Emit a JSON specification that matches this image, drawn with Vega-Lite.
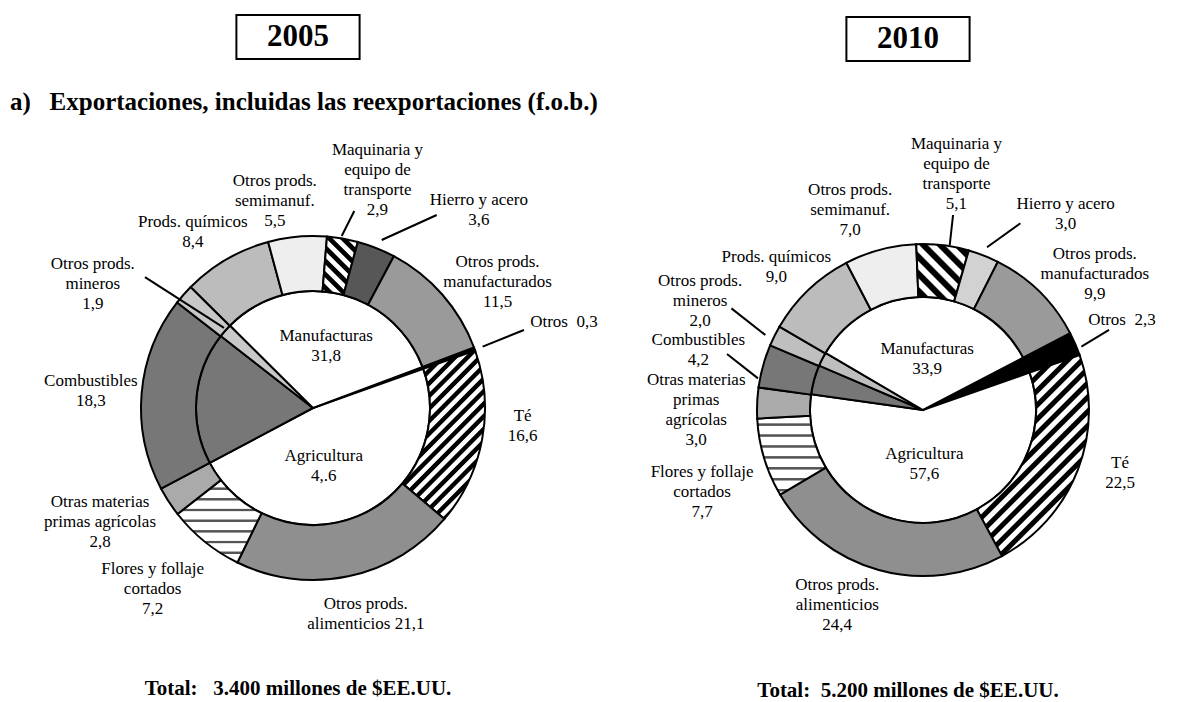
{
"$schema": "https://vega.github.io/schema/vega-lite/v6.json",
"width": 1194, "height": 702, "padding": 0, "autosize": {"type": "none"},
"background": "white",
"config": {"view": {"stroke": null}, "text": {"font": "Liberation Serif", "fontSize": 17, "lineHeight": 20, "lineBreak": "\n", "color": "black"}},
"datasets": {
"outer": [
{"year":2005,"k":1,"cat":"Otros","value":0.3,"label":"Otros\u00a0\u00a00,3"},
{"year":2005,"k":2,"cat":"Té","value":16.6,"label":"Té\n16,6"},
{"year":2005,"k":3,"cat":"Alimenticios","value":21.1,"label":"Otros prods.\nalimenticios 21,1"},
{"year":2005,"k":4,"cat":"Flores","value":7.2,"label":"Flores y follaje\ncortados\n7,2"},
{"year":2005,"k":5,"cat":"Materias","value":2.8,"label":"Otras materias\nprimas agrícolas\n2,8"},
{"year":2005,"k":6,"cat":"Combustibles","value":18.3,"label":"Combustibles\n18,3"},
{"year":2005,"k":7,"cat":"Mineros","value":1.9,"label":"Otros prods.\nmineros\n1,9"},
{"year":2005,"k":8,"cat":"Químicos","value":8.4,"label":"Prods. químicos\n8,4"},
{"year":2005,"k":9,"cat":"Semimanuf","value":5.5,"label":"Otros prods.\nsemimanuf.\n5,5"},
{"year":2005,"k":10,"cat":"Maquinaria","value":2.9,"label":"Maquinaria y\nequipo de\ntransporte\n2,9"},
{"year":2005,"k":11,"cat":"Hierro","value":3.6,"label":"Hierro y acero\n3,6"},
{"year":2005,"k":12,"cat":"Manufacturados","value":11.5,"label":"Otros prods.\nmanufacturados\n11,5"},
{"year":2010,"k":1,"cat":"Otros","value":2.3,"label":"Otros\u00a0\u00a02,3"},
{"year":2010,"k":2,"cat":"Té","value":22.5,"label":"Té\n22,5"},
{"year":2010,"k":3,"cat":"Alimenticios","value":24.4,"label":"Otros prods.\nalimenticios\n24,4"},
{"year":2010,"k":4,"cat":"Flores","value":7.7,"label":"Flores y follaje\ncortados\n7,7"},
{"year":2010,"k":5,"cat":"Materias","value":3.0,"label":"Otras materias\nprimas\nagrícolas\n3,0"},
{"year":2010,"k":6,"cat":"Combustibles","value":4.2,"label":"Combustibles\n4,2"},
{"year":2010,"k":7,"cat":"Mineros","value":2.0,"label":"Otros prods.\nmineros\n2,0"},
{"year":2010,"k":8,"cat":"Químicos","value":9.0,"label":"Prods. químicos\n9,0"},
{"year":2010,"k":9,"cat":"Semimanuf","value":7.0,"label":"Otros prods.\nsemimanuf.\n7,0"},
{"year":2010,"k":10,"cat":"Maquinaria","value":5.1,"label":"Maquinaria y\nequipo de\ntransporte\n5,1"},
{"year":2010,"k":11,"cat":"Hierro","value":3.0,"label":"Hierro y acero\n3,0"},
{"year":2010,"k":12,"cat":"Manufacturados","value":9.9,"label":"Otros prods.\nmanufacturados\n9,9"}
],
"inner": [
{"year":2005,"k":1,"cat":"Otros","value":0.3,"label":""},
{"year":2005,"k":2,"cat":"Agricultura","value":47.6,"label":"Agricultura\n4,.6"},
{"year":2005,"k":3,"cat":"Combustibles","value":18.3,"label":""},
{"year":2005,"k":4,"cat":"Mineros","value":1.9,"label":""},
{"year":2005,"k":5,"cat":"Manufacturas","value":31.8,"label":"Manufacturas\n31,8"},
{"year":2010,"k":1,"cat":"Otros","value":2.3,"label":""},
{"year":2010,"k":2,"cat":"Agricultura","value":57.6,"label":"Agricultura\n57,6"},
{"year":2010,"k":3,"cat":"Combustibles","value":4.2,"label":""},
{"year":2010,"k":4,"cat":"Mineros","value":2.0,"label":""},
{"year":2010,"k":5,"cat":"Manufacturas","value":33.9,"label":"Manufacturas\n33,9"}
],
"panels": [
{"year":2005,"title":"2005","total":"Total:\u00a0\u00a0 3.400 millones de $EE.UU."},
{"year":2010,"title":"2010","total":"Total:\u00a0 5.200 millones de $EE.UU."}
],
"notes": [
{"year":2005,"text":"a)\u00a0\u00a0\u00a0Exportaciones, incluidas las reexportaciones (f.o.b.)"}
]
},
"encoding": {
"x": {"field":"year","type":"quantitative","axis":null,"scale":{"domain":[2005,2010],"range":[313,923],"nice":false,"zero":false}},
"y": {"field":"year","type":"quantitative","axis":null,"scale":{"domain":[2005,2010],"range":[408,410],"nice":false,"zero":false}}
},
"layer": [
{"data":{"name":"inner"},"transform":[{"filter":"datum.year === 2005"}],
 "mark":{"type":"arc","innerRadius":0,"outerRadius":117,"stroke":"black","strokeWidth":2},
 "encoding":{"theta":{"field":"value","type":"quantitative","stack":true,"scale":{"range":[1.21125,7.49444]}},
  "order":{"field":"k","type":"quantitative"},
  "fill":{"field":"cat","type":"nominal","legend":null,"scale":{"domain":["Otros","Agricultura","Combustibles","Mineros","Manufacturas"],"range":["#000000","#ffffff","#777777","#c8c8c8","#ffffff"]}}}},
{"data":{"name":"outer"},"transform":[{"filter":"datum.year === 2005"}],
 "mark":{"type":"arc","innerRadius":117,"outerRadius":172,"stroke":"black","strokeWidth":2},
 "encoding":{"theta":{"field":"value","type":"quantitative","stack":true,"scale":{"range":[1.21125,7.49444]}},
  "order":{"field":"k","type":"quantitative"},
  "fill":{"condition":[
   {"test":"datum.cat === 'Té'","value":{"gradient":"linear","x1":0,"y1":0,"x2":0.741,"y2":1.501,"stops":[
{"offset":0.002,"color":"#fff"},{"offset":0.018,"color":"#fff"},{"offset":0.022,"color":"#000"},{"offset":0.038,"color":"#000"},
{"offset":0.042,"color":"#fff"},{"offset":0.058,"color":"#fff"},{"offset":0.062,"color":"#000"},{"offset":0.078,"color":"#000"},
{"offset":0.082,"color":"#fff"},{"offset":0.098,"color":"#fff"},{"offset":0.102,"color":"#000"},{"offset":0.118,"color":"#000"},
{"offset":0.122,"color":"#fff"},{"offset":0.138,"color":"#fff"},{"offset":0.142,"color":"#000"},{"offset":0.158,"color":"#000"},
{"offset":0.162,"color":"#fff"},{"offset":0.178,"color":"#fff"},{"offset":0.182,"color":"#000"},{"offset":0.198,"color":"#000"},
{"offset":0.202,"color":"#fff"},{"offset":0.218,"color":"#fff"},{"offset":0.222,"color":"#000"},{"offset":0.238,"color":"#000"},
{"offset":0.242,"color":"#fff"},{"offset":0.258,"color":"#fff"},{"offset":0.262,"color":"#000"},{"offset":0.278,"color":"#000"},
{"offset":0.282,"color":"#fff"},{"offset":0.298,"color":"#fff"},{"offset":0.302,"color":"#000"},{"offset":0.318,"color":"#000"},
{"offset":0.322,"color":"#fff"},{"offset":0.338,"color":"#fff"},{"offset":0.342,"color":"#000"},{"offset":0.358,"color":"#000"},
{"offset":0.362,"color":"#fff"},{"offset":0.378,"color":"#fff"},{"offset":0.382,"color":"#000"},{"offset":0.398,"color":"#000"},
{"offset":0.402,"color":"#fff"},{"offset":0.418,"color":"#fff"},{"offset":0.422,"color":"#000"},{"offset":0.438,"color":"#000"},
{"offset":0.442,"color":"#fff"},{"offset":0.458,"color":"#fff"},{"offset":0.462,"color":"#000"},{"offset":0.478,"color":"#000"},
{"offset":0.482,"color":"#fff"},{"offset":0.498,"color":"#fff"},{"offset":0.502,"color":"#000"},{"offset":0.518,"color":"#000"},
{"offset":0.522,"color":"#fff"},{"offset":0.538,"color":"#fff"},{"offset":0.542,"color":"#000"},{"offset":0.558,"color":"#000"},
{"offset":0.562,"color":"#fff"},{"offset":0.578,"color":"#fff"},{"offset":0.582,"color":"#000"},{"offset":0.598,"color":"#000"},
{"offset":0.602,"color":"#fff"},{"offset":0.618,"color":"#fff"},{"offset":0.622,"color":"#000"},{"offset":0.638,"color":"#000"},
{"offset":0.642,"color":"#fff"},{"offset":0.658,"color":"#fff"},{"offset":0.662,"color":"#000"},{"offset":0.678,"color":"#000"},
{"offset":0.682,"color":"#fff"},{"offset":0.698,"color":"#fff"},{"offset":0.702,"color":"#000"},{"offset":0.718,"color":"#000"},
{"offset":0.722,"color":"#fff"},{"offset":0.738,"color":"#fff"},{"offset":0.742,"color":"#000"},{"offset":0.758,"color":"#000"},
{"offset":0.762,"color":"#fff"},{"offset":0.778,"color":"#fff"},{"offset":0.782,"color":"#000"},{"offset":0.798,"color":"#000"},
{"offset":0.802,"color":"#fff"},{"offset":0.818,"color":"#fff"},{"offset":0.822,"color":"#000"},{"offset":0.838,"color":"#000"}
   ]}},
   {"test":"datum.cat === 'Maquinaria'","value":{"gradient":"linear","x1":0,"y1":1,"x2":2.517,"y2":-3.202,"stops":[
{"offset":0.002,"color":"#fff"},{"offset":0.018,"color":"#fff"},{"offset":0.022,"color":"#000"},{"offset":0.038,"color":"#000"},
{"offset":0.042,"color":"#fff"},{"offset":0.058,"color":"#fff"},{"offset":0.062,"color":"#000"},{"offset":0.078,"color":"#000"},
{"offset":0.082,"color":"#fff"},{"offset":0.098,"color":"#fff"},{"offset":0.102,"color":"#000"},{"offset":0.118,"color":"#000"},
{"offset":0.122,"color":"#fff"},{"offset":0.138,"color":"#fff"},{"offset":0.142,"color":"#000"},{"offset":0.158,"color":"#000"},
{"offset":0.162,"color":"#fff"},{"offset":0.178,"color":"#fff"},{"offset":0.182,"color":"#000"},{"offset":0.198,"color":"#000"},
{"offset":0.202,"color":"#fff"},{"offset":0.218,"color":"#fff"},{"offset":0.222,"color":"#000"},{"offset":0.238,"color":"#000"},
{"offset":0.242,"color":"#fff"},{"offset":0.258,"color":"#fff"},{"offset":0.262,"color":"#000"},{"offset":0.278,"color":"#000"},
{"offset":0.282,"color":"#fff"},{"offset":0.298,"color":"#fff"},{"offset":0.302,"color":"#000"},{"offset":0.318,"color":"#000"}
   ]}},
   {"test":"datum.cat === 'Flores'","value":{"gradient":"linear","x1":0,"y1":0,"x2":0,"y2":3.24,"stops":[
{"offset":0.026,"color":"#fff"},{"offset":0.029,"color":"#555"},{"offset":0.035,"color":"#555"},{"offset":0.038,"color":"#fff"},
{"offset":0.066,"color":"#fff"},{"offset":0.069,"color":"#555"},{"offset":0.075,"color":"#555"},{"offset":0.078,"color":"#fff"},
{"offset":0.106,"color":"#fff"},{"offset":0.109,"color":"#555"},{"offset":0.115,"color":"#555"},{"offset":0.118,"color":"#fff"},
{"offset":0.146,"color":"#fff"},{"offset":0.149,"color":"#555"},{"offset":0.155,"color":"#555"},{"offset":0.158,"color":"#fff"},
{"offset":0.186,"color":"#fff"},{"offset":0.189,"color":"#555"},{"offset":0.195,"color":"#555"},{"offset":0.198,"color":"#fff"},
{"offset":0.226,"color":"#fff"},{"offset":0.229,"color":"#555"},{"offset":0.235,"color":"#555"},{"offset":0.238,"color":"#fff"},
{"offset":0.266,"color":"#fff"},{"offset":0.269,"color":"#555"},{"offset":0.275,"color":"#555"},{"offset":0.278,"color":"#fff"},
{"offset":0.306,"color":"#fff"},{"offset":0.309,"color":"#555"},{"offset":0.315,"color":"#555"},{"offset":0.318,"color":"#fff"}
   ]}}
  ],
  "field":"cat","type":"nominal","legend":null,
  "scale":{"domain":["Otros","Té","Alimenticios","Flores","Materias","Combustibles","Mineros","Químicos","Semimanuf","Maquinaria","Hierro","Manufacturados"],
           "range":["#000000","#777777","#8f8f8f","#dddddd","#aaaaaa","#777777","#c8c8c8","#bcbcbc","#eeeeee","#777777","#575757","#9a9a9a"]}}}},
{"data":{"name":"inner"},"transform":[{"filter":"datum.year === 2010"}],
 "mark":{"type":"arc","innerRadius":0,"outerRadius":113,"stroke":"black","strokeWidth":2},
 "encoding":{"theta":{"field":"value","type":"quantitative","stack":true,"scale":{"range":[1.08908,7.37227]}},
  "order":{"field":"k","type":"quantitative"},
  "fill":{"field":"cat","type":"nominal","legend":null,"scale":{"domain":["Otros","Agricultura","Combustibles","Mineros","Manufacturas"],"range":["#000000","#ffffff","#777777","#bfbfbf","#ffffff"]}}}},
{"data":{"name":"outer"},"transform":[{"filter":"datum.year === 2010"}],
 "mark":{"type":"arc","innerRadius":113,"outerRadius":166,"stroke":"black","strokeWidth":2},
 "encoding":{"theta":{"field":"value","type":"quantitative","stack":true,"scale":{"range":[1.08908,7.37227]}},
  "order":{"field":"k","type":"quantitative"},
  "fill":{"condition":[
   {"test":"datum.cat === 'Té'","value":{"gradient":"linear","x1":0,"y1":0,"x2":0.753,"y2":1.35,"stops":[
{"offset":0.002,"color":"#fff"},{"offset":0.018,"color":"#fff"},{"offset":0.022,"color":"#000"},{"offset":0.038,"color":"#000"},
{"offset":0.042,"color":"#fff"},{"offset":0.058,"color":"#fff"},{"offset":0.062,"color":"#000"},{"offset":0.078,"color":"#000"},
{"offset":0.082,"color":"#fff"},{"offset":0.098,"color":"#fff"},{"offset":0.102,"color":"#000"},{"offset":0.118,"color":"#000"},
{"offset":0.122,"color":"#fff"},{"offset":0.138,"color":"#fff"},{"offset":0.142,"color":"#000"},{"offset":0.158,"color":"#000"},
{"offset":0.162,"color":"#fff"},{"offset":0.178,"color":"#fff"},{"offset":0.182,"color":"#000"},{"offset":0.198,"color":"#000"},
{"offset":0.202,"color":"#fff"},{"offset":0.218,"color":"#fff"},{"offset":0.222,"color":"#000"},{"offset":0.238,"color":"#000"},
{"offset":0.242,"color":"#fff"},{"offset":0.258,"color":"#fff"},{"offset":0.262,"color":"#000"},{"offset":0.278,"color":"#000"},
{"offset":0.282,"color":"#fff"},{"offset":0.298,"color":"#fff"},{"offset":0.302,"color":"#000"},{"offset":0.318,"color":"#000"},
{"offset":0.322,"color":"#fff"},{"offset":0.338,"color":"#fff"},{"offset":0.342,"color":"#000"},{"offset":0.358,"color":"#000"},
{"offset":0.362,"color":"#fff"},{"offset":0.378,"color":"#fff"},{"offset":0.382,"color":"#000"},{"offset":0.398,"color":"#000"},
{"offset":0.402,"color":"#fff"},{"offset":0.418,"color":"#fff"},{"offset":0.422,"color":"#000"},{"offset":0.438,"color":"#000"},
{"offset":0.442,"color":"#fff"},{"offset":0.458,"color":"#fff"},{"offset":0.462,"color":"#000"},{"offset":0.478,"color":"#000"},
{"offset":0.482,"color":"#fff"},{"offset":0.498,"color":"#fff"},{"offset":0.502,"color":"#000"},{"offset":0.518,"color":"#000"},
{"offset":0.522,"color":"#fff"},{"offset":0.538,"color":"#fff"},{"offset":0.542,"color":"#000"},{"offset":0.558,"color":"#000"},
{"offset":0.562,"color":"#fff"},{"offset":0.578,"color":"#fff"},{"offset":0.582,"color":"#000"},{"offset":0.598,"color":"#000"},
{"offset":0.602,"color":"#fff"},{"offset":0.618,"color":"#fff"},{"offset":0.622,"color":"#000"},{"offset":0.638,"color":"#000"},
{"offset":0.642,"color":"#fff"},{"offset":0.658,"color":"#fff"},{"offset":0.662,"color":"#000"},{"offset":0.678,"color":"#000"},
{"offset":0.682,"color":"#fff"},{"offset":0.698,"color":"#fff"},{"offset":0.702,"color":"#000"},{"offset":0.718,"color":"#000"},
{"offset":0.722,"color":"#fff"},{"offset":0.738,"color":"#fff"},{"offset":0.742,"color":"#000"},{"offset":0.758,"color":"#000"},
{"offset":0.762,"color":"#fff"},{"offset":0.778,"color":"#fff"},{"offset":0.782,"color":"#000"},{"offset":0.798,"color":"#000"},
{"offset":0.802,"color":"#fff"},{"offset":0.818,"color":"#fff"},{"offset":0.822,"color":"#000"},{"offset":0.838,"color":"#000"},
{"offset":0.842,"color":"#fff"},{"offset":0.858,"color":"#fff"},{"offset":0.862,"color":"#000"},{"offset":0.878,"color":"#000"},
{"offset":0.882,"color":"#fff"},{"offset":0.898,"color":"#fff"},{"offset":0.902,"color":"#000"},{"offset":0.918,"color":"#000"}
   ]}},
   {"test":"datum.cat === 'Maquinaria'","value":{"gradient":"linear","x1":0,"y1":1,"x2":3.683,"y2":-2.996,"stops":[
{"offset":0.002,"color":"#fff"},{"offset":0.018,"color":"#fff"},{"offset":0.022,"color":"#000"},{"offset":0.038,"color":"#000"},
{"offset":0.042,"color":"#fff"},{"offset":0.058,"color":"#fff"},{"offset":0.062,"color":"#000"},{"offset":0.078,"color":"#000"},
{"offset":0.082,"color":"#fff"},{"offset":0.098,"color":"#fff"},{"offset":0.102,"color":"#000"},{"offset":0.118,"color":"#000"},
{"offset":0.122,"color":"#fff"},{"offset":0.138,"color":"#fff"},{"offset":0.142,"color":"#000"},{"offset":0.158,"color":"#000"},
{"offset":0.162,"color":"#fff"},{"offset":0.178,"color":"#fff"},{"offset":0.182,"color":"#000"},{"offset":0.198,"color":"#000"},
{"offset":0.202,"color":"#fff"},{"offset":0.218,"color":"#fff"},{"offset":0.222,"color":"#000"},{"offset":0.238,"color":"#000"},
{"offset":0.242,"color":"#fff"},{"offset":0.258,"color":"#fff"},{"offset":0.262,"color":"#000"},{"offset":0.278,"color":"#000"}
   ]}},
   {"test":"datum.cat === 'Flores'","value":{"gradient":"linear","x1":0,"y1":0,"x2":0,"y2":3.47,"stops":[
{"offset":0.026,"color":"#fff"},{"offset":0.029,"color":"#555"},{"offset":0.035,"color":"#555"},{"offset":0.038,"color":"#fff"},
{"offset":0.066,"color":"#fff"},{"offset":0.069,"color":"#555"},{"offset":0.075,"color":"#555"},{"offset":0.078,"color":"#fff"},
{"offset":0.106,"color":"#fff"},{"offset":0.109,"color":"#555"},{"offset":0.115,"color":"#555"},{"offset":0.118,"color":"#fff"},
{"offset":0.146,"color":"#fff"},{"offset":0.149,"color":"#555"},{"offset":0.155,"color":"#555"},{"offset":0.158,"color":"#fff"},
{"offset":0.186,"color":"#fff"},{"offset":0.189,"color":"#555"},{"offset":0.195,"color":"#555"},{"offset":0.198,"color":"#fff"},
{"offset":0.226,"color":"#fff"},{"offset":0.229,"color":"#555"},{"offset":0.235,"color":"#555"},{"offset":0.238,"color":"#fff"},
{"offset":0.266,"color":"#fff"},{"offset":0.269,"color":"#555"},{"offset":0.275,"color":"#555"},{"offset":0.278,"color":"#fff"},
{"offset":0.306,"color":"#fff"},{"offset":0.309,"color":"#555"},{"offset":0.315,"color":"#555"},{"offset":0.318,"color":"#fff"}
   ]}}
  ],
  "field":"cat","type":"nominal","legend":null,
  "scale":{"domain":["Otros","Té","Alimenticios","Flores","Materias","Combustibles","Mineros","Químicos","Semimanuf","Maquinaria","Hierro","Manufacturados"],
           "range":["#000000","#777777","#8f8f8f","#dddddd","#aaaaaa","#777777","#bfbfbf","#bcbcbc","#eeeeee","#777777","#d2d2d2","#9a9a9a"]}}}},

{"data":{"name":"outer"},"transform":[{"filter":"datum.year === 2005 && datum.cat === 'Mineros'"}],"mark":{"type":"point","shape":"stroke","size":8836,"angle":32.8,"stroke":"black","strokeWidth":2,"opacity":1,"xOffset":-128.5,"yOffset":-105.5}},
{"data":{"name":"outer"},"transform":[{"filter":"datum.year === 2005 && datum.cat === 'Maquinaria'"}],"mark":{"type":"point","shape":"stroke","size":784,"angle":-63.3,"stroke":"black","strokeWidth":2,"opacity":1,"xOffset":35,"yOffset":-184.5}},
{"data":{"name":"outer"},"transform":[{"filter":"datum.year === 2005 && datum.cat === 'Hierro'"}],"mark":{"type":"point","shape":"stroke","size":3648,"angle":-24.4,"stroke":"black","strokeWidth":2,"opacity":1,"xOffset":96.2,"yOffset":-180.5}},
{"data":{"name":"outer"},"transform":[{"filter":"datum.year === 2005 && datum.cat === 'Otros'"}],"mark":{"type":"point","shape":"stroke","size":1980,"angle":-22,"stroke":"black","strokeWidth":2,"opacity":1,"xOffset":190.3,"yOffset":-69.7}},
{"data":{"name":"outer"},"transform":[{"filter":"datum.year === 2010 && datum.cat === 'Mineros'"}],"mark":{"type":"point","shape":"stroke","size":1866,"angle":38.1,"stroke":"black","strokeWidth":2,"opacity":1,"xOffset":-174.6,"yOffset":-88.3}},
{"data":{"name":"outer"},"transform":[{"filter":"datum.year === 2010 && datum.cat === 'Combustibles'"}],"mark":{"type":"point","shape":"stroke","size":1552,"angle":38.1,"stroke":"black","strokeWidth":2,"opacity":1,"xOffset":-180.5,"yOffset":-43.8}},
{"data":{"name":"outer"},"transform":[{"filter":"datum.year === 2010 && datum.cat === 'Maquinaria'"}],"mark":{"type":"point","shape":"stroke","size":912,"angle":96.3,"stroke":"black","strokeWidth":2,"opacity":1,"xOffset":28.4,"yOffset":-180}},
{"data":{"name":"outer"},"transform":[{"filter":"datum.year === 2010 && datum.cat === 'Hierro'"}],"mark":{"type":"point","shape":"stroke","size":1689,"angle":-35.7,"stroke":"black","strokeWidth":2,"opacity":1,"xOffset":80.7,"yOffset":-174.7}},
{"data":{"name":"outer"},"transform":[{"filter":"datum.year === 2010 && datum.cat === 'Otros'"}],"mark":{"type":"point","shape":"stroke","size":1043,"angle":-31.2,"stroke":"black","strokeWidth":2,"opacity":1,"xOffset":172.2,"yOffset":-71.7}},

{"data":{"name":"outer"},"transform":[{"filter":"datum.year === 2005"}],"mark":{"type":"text","radius":265,"dx":2,"dy":5},"encoding":{"theta":{"field":"value","type":"quantitative","stack":true,"scale":{"range":[1.21125,7.49444]}},"order":{"field":"k","type":"quantitative"},"detail":{"field":"cat","type":"nominal"},"text":{"condition":{"test":"datum.cat === 'Otros'","field":"label","type":"nominal"},"value":""}}},
{"data":{"name":"outer"},"transform":[{"filter":"datum.year === 2005"}],"mark":{"type":"text","radius":210,"dx":3,"dy":-30},"encoding":{"theta":{"field":"value","type":"quantitative","stack":true,"scale":{"range":[1.21125,7.49444]}},"order":{"field":"k","type":"quantitative"},"detail":{"field":"cat","type":"nominal"},"text":{"condition":{"test":"datum.cat === 'Té'","field":"label","type":"nominal"},"value":""}}},
{"data":{"name":"outer"},"transform":[{"filter":"datum.year === 2005"}],"mark":{"type":"text","radius":213,"dx":9,"dy":-12},"encoding":{"theta":{"field":"value","type":"quantitative","stack":true,"scale":{"range":[1.21125,7.49444]}},"order":{"field":"k","type":"quantitative"},"detail":{"field":"cat","type":"nominal"},"text":{"condition":{"test":"datum.cat === 'Alimenticios'","field":"label","type":"nominal"},"value":""}}},
{"data":{"name":"outer"},"transform":[{"filter":"datum.year === 2005"}],"mark":{"type":"text","radius":242,"dx":-8,"dy":-27},"encoding":{"theta":{"field":"value","type":"quantitative","stack":true,"scale":{"range":[1.21125,7.49444]}},"order":{"field":"k","type":"quantitative"},"detail":{"field":"cat","type":"nominal"},"text":{"condition":{"test":"datum.cat === 'Flores'","field":"label","type":"nominal"},"value":""}}},
{"data":{"name":"outer"},"transform":[{"filter":"datum.year === 2005"}],"mark":{"type":"text","radius":242,"dx":-10,"dy":-38},"encoding":{"theta":{"field":"value","type":"quantitative","stack":true,"scale":{"range":[1.21125,7.49444]}},"order":{"field":"k","type":"quantitative"},"detail":{"field":"cat","type":"nominal"},"text":{"condition":{"test":"datum.cat === 'Materias'","field":"label","type":"nominal"},"value":""}}},
{"data":{"name":"outer"},"transform":[{"filter":"datum.year === 2005"}],"mark":{"type":"text","radius":223,"dx":0,"dy":-8},"encoding":{"theta":{"field":"value","type":"quantitative","stack":true,"scale":{"range":[1.21125,7.49444]}},"order":{"field":"k","type":"quantitative"},"detail":{"field":"cat","type":"nominal"},"text":{"condition":{"test":"datum.cat === 'Combustibles'","field":"label","type":"nominal"},"value":""}}},
{"data":{"name":"outer"},"transform":[{"filter":"datum.year === 2005"}],"mark":{"type":"text","radius":253,"dx":-30,"dy":23},"encoding":{"theta":{"field":"value","type":"quantitative","stack":true,"scale":{"range":[1.21125,7.49444]}},"order":{"field":"k","type":"quantitative"},"detail":{"field":"cat","type":"nominal"},"text":{"condition":{"test":"datum.cat === 'Mineros'","field":"label","type":"nominal"},"value":""}}},
{"data":{"name":"outer"},"transform":[{"filter":"datum.year === 2005"}],"mark":{"type":"text","radius":213,"dx":-13,"dy":-2},"encoding":{"theta":{"field":"value","type":"quantitative","stack":true,"scale":{"range":[1.21125,7.49444]}},"order":{"field":"k","type":"quantitative"},"detail":{"field":"cat","type":"nominal"},"text":{"condition":{"test":"datum.cat === 'Químicos'","field":"label","type":"nominal"},"value":""}}},
{"data":{"name":"outer"},"transform":[{"filter":"datum.year === 2005"}],"mark":{"type":"text","radius":211,"dx":-19,"dy":-17},"encoding":{"theta":{"field":"value","type":"quantitative","stack":true,"scale":{"range":[1.21125,7.49444]}},"order":{"field":"k","type":"quantitative"},"detail":{"field":"cat","type":"nominal"},"text":{"condition":{"test":"datum.cat === 'Semimanuf'","field":"label","type":"nominal"},"value":""}}},
{"data":{"name":"outer"},"transform":[{"filter":"datum.year === 2005"}],"mark":{"type":"text","radius":236,"dx":24,"dy":-25},"encoding":{"theta":{"field":"value","type":"quantitative","stack":true,"scale":{"range":[1.21125,7.49444]}},"order":{"field":"k","type":"quantitative"},"detail":{"field":"cat","type":"nominal"},"text":{"condition":{"test":"datum.cat === 'Maquinaria'","field":"label","type":"nominal"},"value":""}}},
{"data":{"name":"outer"},"transform":[{"filter":"datum.year === 2005"}],"mark":{"type":"text","radius":258,"dx":71,"dy":32},"encoding":{"theta":{"field":"value","type":"quantitative","stack":true,"scale":{"range":[1.21125,7.49444]}},"order":{"field":"k","type":"quantitative"},"detail":{"field":"cat","type":"nominal"},"text":{"condition":{"test":"datum.cat === 'Hierro'","field":"label","type":"nominal"},"value":""}}},
{"data":{"name":"outer"},"transform":[{"filter":"datum.year === 2005"}],"mark":{"type":"text","radius":223,"dx":17,"dy":1},"encoding":{"theta":{"field":"value","type":"quantitative","stack":true,"scale":{"range":[1.21125,7.49444]}},"order":{"field":"k","type":"quantitative"},"detail":{"field":"cat","type":"nominal"},"text":{"condition":{"test":"datum.cat === 'Manufacturados'","field":"label","type":"nominal"},"value":""}}},
{"data":{"name":"inner"},"transform":[{"filter":"datum.year === 2005"}],"mark":{"type":"text","radius":63,"dx":0,"dy":-10},"encoding":{"theta":{"field":"value","type":"quantitative","stack":true,"scale":{"range":[1.21125,7.49444]}},"order":{"field":"k","type":"quantitative"},"detail":{"field":"cat","type":"nominal"},"text":{"condition":{"test":"datum.cat === 'Manufacturas'","field":"label","type":"nominal"},"value":""}}},
{"data":{"name":"inner"},"transform":[{"filter":"datum.year === 2005"}],"mark":{"type":"text","radius":59,"dx":-13,"dy":-6},"encoding":{"theta":{"field":"value","type":"quantitative","stack":true,"scale":{"range":[1.21125,7.49444]}},"order":{"field":"k","type":"quantitative"},"detail":{"field":"cat","type":"nominal"},"text":{"condition":{"test":"datum.cat === 'Agricultura'","field":"label","type":"nominal"},"value":""}}},

{"data":{"name":"outer"},"transform":[{"filter":"datum.year === 2010"}],"mark":{"type":"text","radius":218,"dx":-1,"dy":-3},"encoding":{"theta":{"field":"value","type":"quantitative","stack":true,"scale":{"range":[1.08908,7.37227]}},"order":{"field":"k","type":"quantitative"},"detail":{"field":"cat","type":"nominal"},"text":{"condition":{"test":"datum.cat === 'Otros'","field":"label","type":"nominal"},"value":""}}},
{"data":{"name":"outer"},"transform":[{"filter":"datum.year === 2010"}],"mark":{"type":"text","radius":207,"dx":4,"dy":-22},"encoding":{"theta":{"field":"value","type":"quantitative","stack":true,"scale":{"range":[1.08908,7.37227]}},"order":{"field":"k","type":"quantitative"},"detail":{"field":"cat","type":"nominal"},"text":{"condition":{"test":"datum.cat === 'Té'","field":"label","type":"nominal"},"value":""}}},
{"data":{"name":"outer"},"transform":[{"filter":"datum.year === 2010"}],"mark":{"type":"text","radius":213,"dx":-29,"dy":-30},"encoding":{"theta":{"field":"value","type":"quantitative","stack":true,"scale":{"range":[1.08908,7.37227]}},"order":{"field":"k","type":"quantitative"},"detail":{"field":"cat","type":"nominal"},"text":{"condition":{"test":"datum.cat === 'Alimenticios'","field":"label","type":"nominal"},"value":""}}},
{"data":{"name":"outer"},"transform":[{"filter":"datum.year === 2010"}],"mark":{"type":"text","radius":236,"dx":5,"dy":-6},"encoding":{"theta":{"field":"value","type":"quantitative","stack":true,"scale":{"range":[1.08908,7.37227]}},"order":{"field":"k","type":"quantitative"},"detail":{"field":"cat","type":"nominal"},"text":{"condition":{"test":"datum.cat === 'Flores'","field":"label","type":"nominal"},"value":""}}},
{"data":{"name":"outer"},"transform":[{"filter":"datum.year === 2010"}],"mark":{"type":"text","radius":227,"dx":0,"dy":-20},"encoding":{"theta":{"field":"value","type":"quantitative","stack":true,"scale":{"range":[1.08908,7.37227]}},"order":{"field":"k","type":"quantitative"},"detail":{"field":"cat","type":"nominal"},"text":{"condition":{"test":"datum.cat === 'Materias'","field":"label","type":"nominal"},"value":""}}},
{"data":{"name":"outer"},"transform":[{"filter":"datum.year === 2010"}],"mark":{"type":"text","radius":232,"dx":-1,"dy":-8},"encoding":{"theta":{"field":"value","type":"quantitative","stack":true,"scale":{"range":[1.08908,7.37227]}},"order":{"field":"k","type":"quantitative"},"detail":{"field":"cat","type":"nominal"},"text":{"condition":{"test":"datum.cat === 'Combustibles'","field":"label","type":"nominal"},"value":""}}},
{"data":{"name":"outer"},"transform":[{"filter":"datum.year === 2010"}],"mark":{"type":"text","radius":248,"dx":-1,"dy":-18},"encoding":{"theta":{"field":"value","type":"quantitative","stack":true,"scale":{"range":[1.08908,7.37227]}},"order":{"field":"k","type":"quantitative"},"detail":{"field":"cat","type":"nominal"},"text":{"condition":{"test":"datum.cat === 'Mineros'","field":"label","type":"nominal"},"value":""}}},
{"data":{"name":"outer"},"transform":[{"filter":"datum.year === 2010"}],"mark":{"type":"text","radius":205,"dx":-5,"dy":-5},"encoding":{"theta":{"field":"value","type":"quantitative","stack":true,"scale":{"range":[1.08908,7.37227]}},"order":{"field":"k","type":"quantitative"},"detail":{"field":"cat","type":"nominal"},"text":{"condition":{"test":"datum.cat === 'Químicos'","field":"label","type":"nominal"},"value":""}}},
{"data":{"name":"outer"},"transform":[{"filter":"datum.year === 2010"}],"mark":{"type":"text","radius":213,"dx":-18,"dy":-14},"encoding":{"theta":{"field":"value","type":"quantitative","stack":true,"scale":{"range":[1.08908,7.37227]}},"order":{"field":"k","type":"quantitative"},"detail":{"field":"cat","type":"nominal"},"text":{"condition":{"test":"datum.cat === 'Semimanuf'","field":"label","type":"nominal"},"value":""}}},
{"data":{"name":"outer"},"transform":[{"filter":"datum.year === 2010"}],"mark":{"type":"text","radius":239,"dx":5,"dy":-29},"encoding":{"theta":{"field":"value","type":"quantitative","stack":true,"scale":{"range":[1.08908,7.37227]}},"order":{"field":"k","type":"quantitative"},"detail":{"field":"cat","type":"nominal"},"text":{"condition":{"test":"datum.cat === 'Maquinaria'","field":"label","type":"nominal"},"value":""}}},
{"data":{"name":"outer"},"transform":[{"filter":"datum.year === 2010"}],"mark":{"type":"text","radius":243,"dx":54,"dy":20},"encoding":{"theta":{"field":"value","type":"quantitative","stack":true,"scale":{"range":[1.08908,7.37227]}},"order":{"field":"k","type":"quantitative"},"detail":{"field":"cat","type":"nominal"},"text":{"condition":{"test":"datum.cat === 'Hierro'","field":"label","type":"nominal"},"value":""}}},
{"data":{"name":"outer"},"transform":[{"filter":"datum.year === 2010"}],"mark":{"type":"text","radius":219,"dx":18,"dy":0},"encoding":{"theta":{"field":"value","type":"quantitative","stack":true,"scale":{"range":[1.08908,7.37227]}},"order":{"field":"k","type":"quantitative"},"detail":{"field":"cat","type":"nominal"},"text":{"condition":{"test":"datum.cat === 'Manufacturados'","field":"label","type":"nominal"},"value":""}}},
{"data":{"name":"inner"},"transform":[{"filter":"datum.year === 2010"}],"mark":{"type":"text","radius":51,"dx":3,"dy":-10},"encoding":{"theta":{"field":"value","type":"quantitative","stack":true,"scale":{"range":[1.08908,7.37227]}},"order":{"field":"k","type":"quantitative"},"detail":{"field":"cat","type":"nominal"},"text":{"condition":{"test":"datum.cat === 'Manufacturas'","field":"label","type":"nominal"},"value":""}}},
{"data":{"name":"inner"},"transform":[{"filter":"datum.year === 2010"}],"mark":{"type":"text","radius":54,"dx":-4,"dy":-10},"encoding":{"theta":{"field":"value","type":"quantitative","stack":true,"scale":{"range":[1.08908,7.37227]}},"order":{"field":"k","type":"quantitative"},"detail":{"field":"cat","type":"nominal"},"text":{"condition":{"test":"datum.cat === 'Agricultura'","field":"label","type":"nominal"},"value":""}}},

{"data":{"name":"panels"},"mark":{"type":"point","shape":"M-2.8,-1H2.8V1H-2.8Z","size":1936,"filled":false,"stroke":"black","strokeWidth":2,"opacity":1,"xOffset":-15,"yOffset":-371}},
{"data":{"name":"panels"},"mark":{"type":"text","dx":-15,"dy":-371,"fontSize":31,"fontWeight":"bold"},"encoding":{"text":{"field":"title","type":"nominal"}}},
{"data":{"name":"panels"},"mark":{"type":"text","dx":-15,"dy":281,"fontSize":21,"fontWeight":"bold"},"encoding":{"text":{"field":"total","type":"nominal"}}},
{"data":{"name":"notes"},"mark":{"type":"text","align":"left","dx":-303,"dy":-306,"fontSize":25,"fontWeight":"bold"},"encoding":{"text":{"field":"text","type":"nominal"}}}
],
"resolve": {"scale": {"theta": "independent", "fill": "independent"}}
}
